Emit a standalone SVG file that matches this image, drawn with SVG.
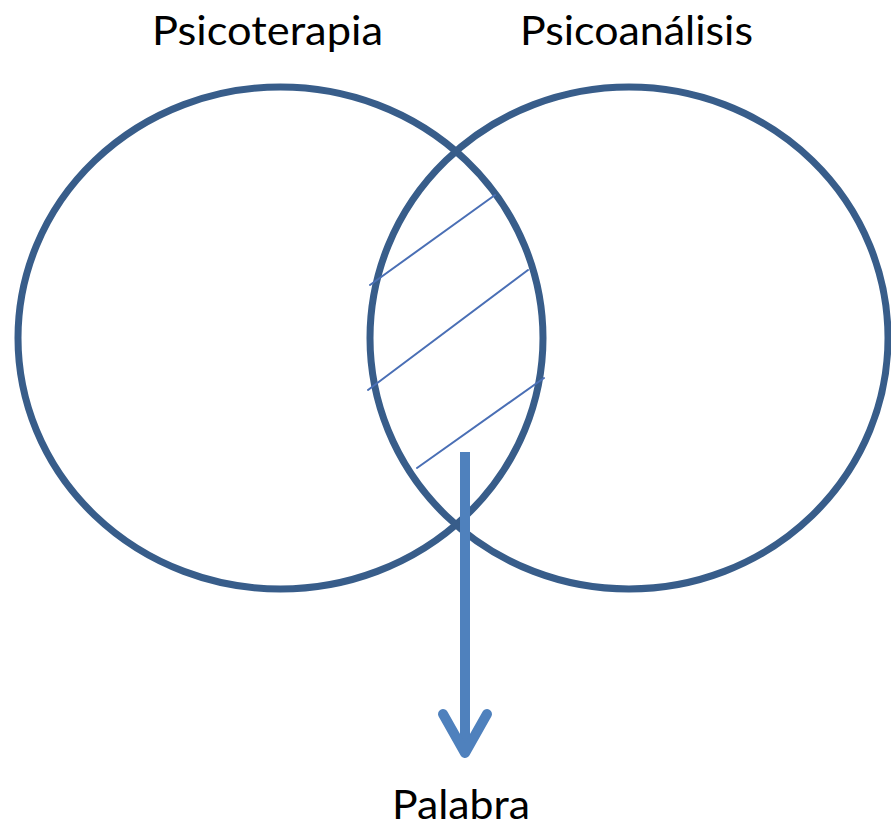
<svg xmlns="http://www.w3.org/2000/svg" width="891" height="827" viewBox="0 0 891 827">
  <style>
    .set { fill: none; stroke: #385D8A; stroke-width: 7; }
    .hatch { stroke: #4A6FB5; stroke-width: 2; stroke-linecap: round; }
    .label { font-family: Lato, "Open Sans", "Liberation Sans", sans-serif; font-size: 40px; fill: #000; }
    .arrow { fill: none; stroke: #4F81BD; stroke-width: 10; }
  </style>
  <rect width="891" height="827" fill="#ffffff"/>
  <g id="psicoterapia">
    <ellipse class="set" cx="280.5" cy="338" rx="262.5" ry="251"/>
    <text class="label" x="152" y="45" textLength="231" lengthAdjust="spacingAndGlyphs">Psicoterapia</text>
  </g>
  <g id="psicoanalisis">
    <ellipse class="set" cx="629" cy="338" rx="259" ry="251"/>
    <text class="label" x="520" y="45" textLength="233" lengthAdjust="spacingAndGlyphs">Psicoanálisis</text>
  </g>
  <g id="interseccion">
    <line class="hatch" x1="370" y1="285" x2="495" y2="195"/>
    <line class="hatch" x1="368" y1="390" x2="528" y2="270"/>
    <line class="hatch" x1="417" y1="468" x2="544" y2="378"/>
  </g>
  <g id="connectors">
    <line class="arrow" x1="465" y1="452" x2="465" y2="750" stroke-linecap="butt"/>
    <polyline class="arrow" points="443,714 465,753 487,714" stroke-linecap="round" stroke-linejoin="round"/>
  </g>
  <g id="palabra">
    <text class="label" x="392" y="819" textLength="138" lengthAdjust="spacingAndGlyphs">Palabra</text>
  </g>
</svg>
